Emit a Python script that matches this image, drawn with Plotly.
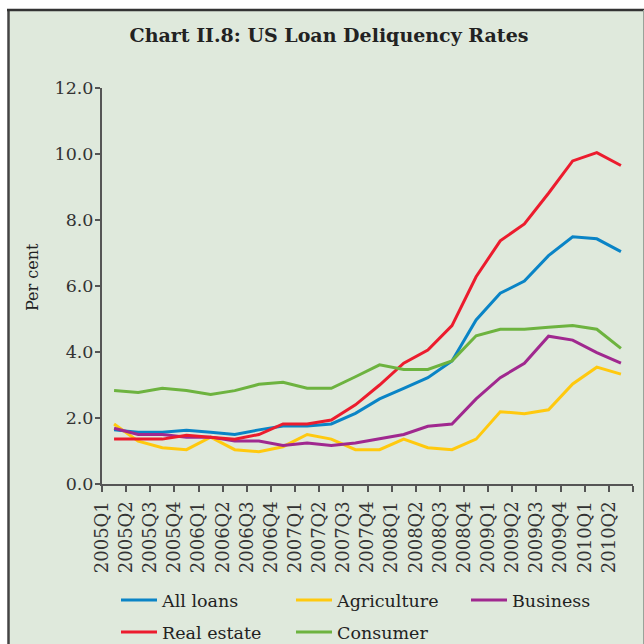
import plotly.graph_objects as go

quarters = ["2005Q1","2005Q2","2005Q3","2005Q4","2006Q1","2006Q2","2006Q3","2006Q4",
            "2007Q1","2007Q2","2007Q3","2007Q4","2008Q1","2008Q2","2008Q3","2008Q4",
            "2009Q1","2009Q2","2009Q3","2009Q4","2010Q1","2010Q2"]

all_loans   = [1.64,1.57,1.57,1.63,1.57,1.50,1.64,1.76,1.76,1.82,2.14,2.58,2.90,3.22,3.73,4.97,5.78,6.15,6.92,7.49,7.43,7.04]
agriculture = [1.82,1.30,1.10,1.04,1.42,1.04,0.98,1.13,1.50,1.36,1.04,1.04,1.36,1.10,1.04,1.36,2.19,2.13,2.25,3.03,3.54,3.33]
business    = [1.69,1.50,1.50,1.42,1.42,1.30,1.30,1.17,1.24,1.17,1.24,1.36,1.50,1.75,1.82,2.58,3.22,3.66,4.48,4.36,3.98,3.66]
real_estate = [1.36,1.36,1.36,1.48,1.42,1.36,1.50,1.82,1.82,1.94,2.40,3.00,3.66,4.06,4.80,6.28,7.37,7.88,8.81,9.79,10.04,9.65]
consumer    = [2.83,2.77,2.90,2.83,2.71,2.83,3.02,3.08,2.90,2.90,3.25,3.61,3.47,3.47,3.73,4.49,4.69,4.69,4.75,4.80,4.69,4.11]

y_ticks = [0, 2, 4, 6, 8, 10, 12]

series = [
    ("All loans", all_loans, "#0a84c6", "legend"),
    ("Agriculture", agriculture, "#ffc90e", "legend"),
    ("Business", business, "#a0288f", "legend"),
    ("Real estate", real_estate, "#ec1c2e", "legend2"),
    ("Consumer", consumer, "#6db33f", "legend2"),
]

W = H = 644
L, R, T, B = 102, 11, 88, 160
pw, ph = W - L - R, H - T - B

def px_x(px):
    return (px - L) / pw

def px_y(py):
    return (H - B - py) / ph

xs = [i + 0.5 for i in range(len(quarters))]

fig = go.Figure()
for name, vals, col, lg in series:
    fig.add_trace(go.Scatter(x=xs, y=vals, mode="lines", name=name,
                             line=dict(color=col, width=3), legend=lg))

bg = "#dfe9dc"
legend_common = dict(orientation="h", xref="container", yref="container",
                     xanchor="left", yanchor="middle", entrywidth=124,
                     itemwidth=36,
                     bgcolor="rgba(0,0,0,0)",
                     font=dict(family="DejaVu Serif", size=17.5, color="#222222"))

fig.update_layout(
    template="none",
    width=W, height=H,
    margin=dict(l=L, r=R, t=T, b=B, autoexpand=False),
    paper_bgcolor="white",
    plot_bgcolor="rgba(0,0,0,0)",
    font=dict(family="DejaVu Serif", color="#222222"),
    title=dict(text="<b>Chart II.8: US Loan Deliquency Rates</b>",
               x=329 / W, xref="container", xanchor="center",
               y=1 - 35 / H, yref="container", yanchor="middle",
               font=dict(family="DejaVu Serif", size=19, color="#222222")),
    xaxis=dict(range=[0, len(quarters)],
               tickmode="array",
               tickvals=list(range(len(quarters) + 1)),
               ticktext=quarters + [""],
               tickangle=-90,
               ticks="outside", ticklen=6, tickwidth=1.5, tickcolor="#555555",
               showline=True, linecolor="#555555", linewidth=2,
               showgrid=False, zeroline=False, automargin=False,
               ticklabelstandoff=2,
               tickfont=dict(family="DejaVu Serif", size=18, color="#333333")),
    yaxis=dict(range=[0, 12], tickmode="array", tickvals=y_ticks,
               ticktext=[f"{v:.1f}" for v in y_ticks],
               ticks="outside", ticklen=5, tickwidth=1.5, tickcolor="#555555",
               showline=True, linecolor="#555555", linewidth=2,
               showgrid=False, zeroline=False, automargin=False,
               ticklabelstandoff=-2,
               tickfont=dict(family="DejaVu Serif", size=17.5, color="#333333")),
    legend=dict(legend_common, x=116 / W, y=1 - 600 / H),
    legend2=dict(legend_common, x=116 / W, y=1 - 632 / H),
    annotations=[dict(text="Per cent", xref="paper", yref="paper",
                      x=px_x(32), y=px_y(277), textangle=-90, showarrow=False,
                      xanchor="center", yanchor="middle",
                      font=dict(family="DejaVu Serif", size=16, color="#222222"))],
    shapes=[
        dict(type="rect", xref="paper", yref="paper", layer="below",
             x0=px_x(8), x1=px_x(644), y0=px_y(644), y1=px_y(10),
             fillcolor=bg, line=dict(width=0)),
        dict(type="line", xref="paper", yref="paper", layer="below",
             x0=px_x(8.5), x1=px_x(8.5), y0=px_y(644), y1=px_y(9),
             line=dict(color="#444444", width=2.5)),
        dict(type="line", xref="paper", yref="paper", layer="below",
             x0=px_x(7), x1=px_x(644), y0=px_y(10), y1=px_y(10),
             line=dict(color="#333333", width=2.5)),
        dict(type="line", xref="paper", yref="paper", layer="below",
             x0=px_x(643.5), x1=px_x(643.5), y0=px_y(644), y1=px_y(10),
             line=dict(color="#9aa39a", width=1)),
    ],
)

fig.write_html("out.html")
